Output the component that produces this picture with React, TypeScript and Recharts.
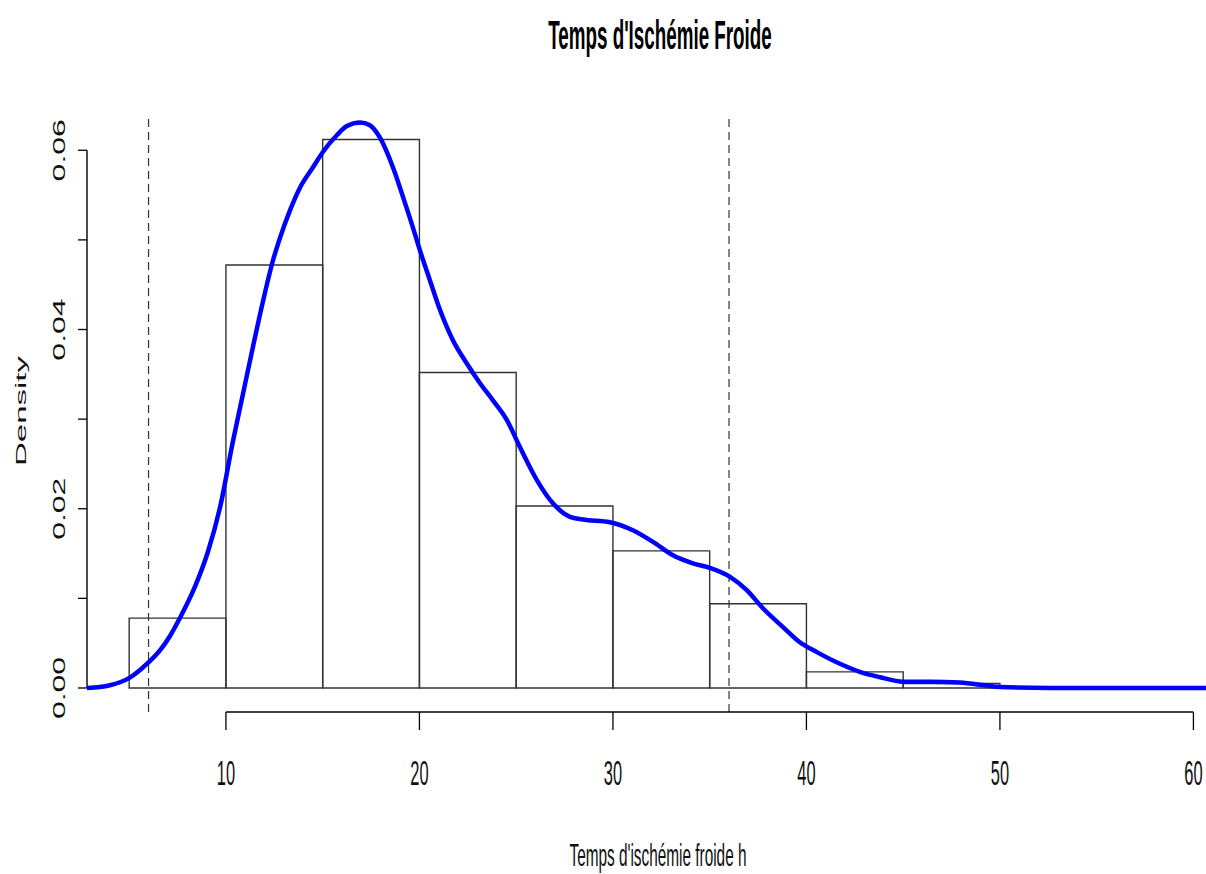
import React from 'react';
import { ComposedChart, Line, XAxis, YAxis, ReferenceArea, ReferenceLine } from 'recharts';

const chartTitle = "Temps d'Ischémie Froide";
const xTitle = "Temps d'ischémie froide h";
const yTitle = 'Density';

const binEdges = [5, 10, 15, 20, 25, 30, 35, 40, 45, 50];
const binDensity = [0.0078, 0.0472, 0.0612, 0.0352, 0.0203, 0.0153, 0.0094, 0.0018, 0.0005];

const curveX = [2.82, 3.49, 4.0, 4.99, 5.97, 6.59, 7.11, 7.62, 8.4, 9.07, 9.69, 10.36, 10.88, 11.4, 11.91, 12.43, 12.79, 13.31, 13.82, 14.5, 15.01, 15.74, 16.25, 16.93, 17.44, 17.96, 18.63, 19.15, 19.66, 20.03, 20.54, 21.06, 21.73, 22.45, 23.13, 23.8, 24.52, 25.19, 26.07, 26.9, 27.78, 28.45, 29.84, 31.03, 32.07, 33.1, 34.13, 35.01, 36.05, 36.93, 37.75, 38.79, 39.66, 40.54, 41.73, 42.76, 43.8, 44.99, 46.38, 47.93, 49.22, 50.0, 52.6, 60.65];
const curveY = [0.0, 0.0001, 0.0003, 0.0011, 0.0028, 0.0042, 0.0058, 0.0078, 0.0113, 0.0152, 0.0201, 0.0275, 0.0328, 0.0381, 0.0431, 0.0477, 0.0502, 0.0533, 0.0558, 0.0581, 0.0598, 0.0617, 0.0627, 0.0631, 0.0628, 0.0614, 0.0581, 0.0548, 0.0514, 0.0488, 0.0455, 0.0422, 0.0388, 0.0362, 0.034, 0.0321, 0.0299, 0.0269, 0.0232, 0.0206, 0.0191, 0.0188, 0.0185, 0.0176, 0.0163, 0.0148, 0.0139, 0.0134, 0.0124, 0.0109, 0.0089, 0.0068, 0.0051, 0.004, 0.0027, 0.0018, 0.0012, 0.0007, 0.0007, 0.0006, 0.0003, 0.0001, 0.0, 0.0];

const xTicks = [10, 20, 30, 40, 50, 60];
const yTicks = [0, 0.01, 0.02, 0.03, 0.04, 0.05, 0.06];
const yLabelTicks = [0, 0.02, 0.04, 0.06];
const dashedLines = [6, 36];

const X_DOMAIN: [number, number] = [2.82, 60.65];
const Y_DOMAIN: [number, number] = [-0.00268, 0.0636];

const curveData = curveX.map((x, i) => ({ x, d: curveY[i] }));

const FONT = "'Liberation Sans', Arial, Helvetica, sans-serif";
const SQ = 0.47;

const XTick = (props: any) => {
  const { x, y, payload } = props;
  return (
    <text
      transform={`translate(${x},${y + 53}) scale(${SQ},1)`}
      textAnchor="middle"
      fontFamily={FONT}
      fontSize={35}
      fill="#111"
    >
      {String(payload.value)}
    </text>
  );
};

const YTick = (props: any) => {
  const { x, y, payload } = props;
  const v = payload.value;
  if (!yLabelTicks.some((t) => Math.abs(t - v) < 1e-9)) return <g />;
  return (
    <text
      transform={`translate(${x - 11},${y}) scale(${SQ + 0.03},1) rotate(-90)`}
      textAnchor="middle"
      fontFamily={FONT}
      fontSize={32}
      fill="#111"
    >
      {v.toFixed(2)}
    </text>
  );
};

export default function App() {
  return (
    <div style={{ position: 'absolute', left: 0, top: 0, width: 1206, height: 874, background: '#fff' }}>
      <svg width={1206} height={874} style={{ position: 'absolute', left: 0, top: 0 }}>
        <text
          transform={`translate(660,49) scale(${SQ},1)`}
          textAnchor="middle"
          fontFamily={FONT}
          fontWeight="bold"
          fontSize={40}
          fill="#000"
        >
          {chartTitle}
        </text>
      </svg>
      <div style={{ position: 'absolute', left: 0, top: 0 }}>
        <ComposedChart
          width={1206}
          height={874}
          margin={{ top: 118, right: 0, bottom: 0, left: 0 }}
        >
          <XAxis
            type="number"
            dataKey="x"
            domain={X_DOMAIN}
            allowDataOverflow
            ticks={xTicks}
            interval={0}
            axisLine={false}
            tickLine={{ stroke: '#000', strokeWidth: 1.3 }}
            tickSize={18}
            height={162}
            tick={<XTick />}
            label={{
              content: () => (
                <text
                  transform={`translate(658,866) scale(${SQ + 0.01},1)`}
                  textAnchor="middle"
                  fontFamily={FONT}
                  fontSize={32}
                  fill="#111"
                >
                  {xTitle}
                </text>
              ),
            }}
          />
          <YAxis
            type="number"
            domain={Y_DOMAIN}
            allowDataOverflow
            ticks={yTicks}
            interval={0}
            axisLine={false}
            tickLine={{ stroke: '#000', strokeWidth: 1.3 }}
            tickSize={9}
            width={87}
            tick={<YTick />}
            label={{
              content: () => (
                <text
                  transform={`translate(26,411) scale(${SQ},1) rotate(-90)`}
                  textAnchor="middle"
                  fontFamily={FONT}
                  fontSize={33}
                  fill="#111"
                >
                  {yTitle}
                </text>
              ),
            }}
          />
          {binDensity.map((d, i) => (
            <ReferenceArea
              key={`bin-${i}`}
              x1={binEdges[i]}
              x2={binEdges[i + 1]}
              y1={0}
              y2={d}
              fill="#fff"
              fillOpacity={0}
              stroke="#333"
              strokeWidth={1.4}
              ifOverflow="visible"
            />
          ))}
          {dashedLines.map((v) => (
            <ReferenceLine
              key={`dash-${v}`}
              x={v}
              stroke="#333"
              strokeWidth={1.2}
              strokeDasharray="8 5"
            />
          ))}
          <ReferenceLine
            segment={[{ x: xTicks[0], y: Y_DOMAIN[0] }, { x: xTicks[xTicks.length - 1], y: Y_DOMAIN[0] }]}
            stroke="#000"
            strokeWidth={1.4}
            ifOverflow="visible"
          />
          <ReferenceLine
            segment={[{ x: X_DOMAIN[0], y: yTicks[0] }, { x: X_DOMAIN[0], y: yTicks[yTicks.length - 1] }]}
            stroke="#000"
            strokeWidth={1.4}
            ifOverflow="visible"
          />
          <Line
            data={curveData}
            dataKey="d"
            type="monotone"
            stroke="#0000ff"
            strokeWidth={4.5}
            dot={false}
            activeDot={false}
            isAnimationActive={false}
          />
        </ComposedChart>
      </div>
    </div>
  );
}
